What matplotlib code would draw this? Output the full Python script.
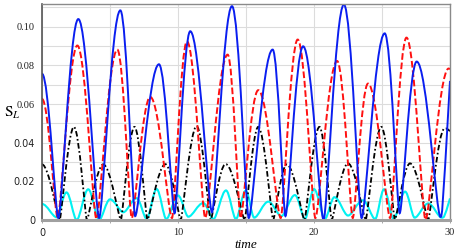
import matplotlib
matplotlib.use("Agg")
import matplotlib.pyplot as plt
from matplotlib.path import Path
from matplotlib.patches import PathPatch

plt.rcParams['mathtext.fontset'] = 'stix'
plt.rcParams['lines.scale_dashes'] = False

# extrema (time, S_L); last point of each is the value at t=30
blue_t = [0, 1.2, 2.67, 4.2, 5.76, 6.85, 8.6, 9.75, 10.9, 12.5, 13.97, 15.2, 16.96, 17.9,
          19.2, 20.7, 22.2, 23.5, 25.2, 26.3, 27.55, 29.3, 30]
blue_y = [0.0757, 0.001, 0.104, 0.001, 0.1085, 0.002, 0.0806, 0.0035, 0.0977, 0.004, 0.1107,
          0.001, 0.0882, 0.002, 0.0899, 0.0, 0.1115, 0.001, 0.0966, 0.0035, 0.082, 0.0016, 0.072]

red_t = [0, 1.15, 2.6, 4.0, 5.54, 6.6, 7.96, 9.56, 10.66, 12.0, 13.65, 14.6, 15.9, 17.55,
         18.8, 20.1, 21.7, 22.85, 23.97, 25.6, 26.8, 28.2, 29.9, 30]
red_y = [0.0627, 0.001, 0.0903, 0.0005, 0.0882, 0.001, 0.0637, 0.001, 0.0925, 0.001, 0.0856,
         0.001, 0.0672, 0.001, 0.0934, 0.001, 0.0823, 0.001, 0.0706, 0.001, 0.0944, 0.0,
         0.0784, 0.078]

black_t = [0, 1.3, 2.35, 3.3, 4.5, 5.8, 6.8, 7.75, 9.07, 10.2, 11.37, 12.4, 13.5, 14.9, 15.9,
           17.0, 18.0, 19.3, 20.4, 21.3, 22.5, 23.8, 24.95, 25.95, 27.06, 28.4, 29.6, 30]
black_y = [0.0288, 0.0, 0.0482, 0.0, 0.0288, 0.0, 0.0482, 0.0, 0.0289, 0.0, 0.0486, 0.0, 0.029,
           0.0, 0.0482, 0.0, 0.0288, 0.0, 0.0482, 0.0, 0.0293, 0.0, 0.0482, 0.0, 0.0293, 0.0,
           0.0474, 0.046]

cyan_t = [0, 1.08, 1.8, 2.55, 3.4, 4.2, 5.0, 5.98, 6.96, 7.7, 8.43, 9.14, 10.0, 10.76, 11.86,
          12.6, 13.53, 14.26, 14.98, 15.6, 16.64, 17.6, 18.6, 19.34, 20.0, 20.8, 21.5, 22.5,
          23.6, 24.5, 25.15, 25.85, 26.7, 27.4, 28.4, 29.4, 30]
cyan_y = [0.0083, 0.0014, 0.0143, 0.0, 0.0159, 0.0, 0.0107, 0.004, 0.0113, 0.0005, 0.016,
          0.0005, 0.0127, 0.0017, 0.0088, 0.0005, 0.0153, 0.0005, 0.0152, 0.0012, 0.0095,
          0.002, 0.0129, 0.0005, 0.016, 0.0005, 0.0118, 0.0023, 0.0102, 0.0005, 0.0159,
          0.0005, 0.0147, 0.0012, 0.0086, 0.0012, 0.0112]


def smooth_path(t, y, kpeak, ktrough):
  # bezier segments through the extrema, flat tangent at each extremum
  verts = [(t[0], y[0])]
  codes = [Path.MOVETO]
  n = len(t)
  for i in range(n - 1):
    dt = t[i + 1] - t[i]
    k0 = kpeak if y[i] >= y[i + 1] else ktrough
    c1 = (t[i] + k0 * dt, y[i])
    if i + 1 == n - 1:
      c2 = c1
    else:
      k1 = kpeak if y[i + 1] >= y[i] else ktrough
      c2 = (t[i + 1] - k1 * dt, y[i + 1])
    verts += [c1, c2, (t[i + 1], y[i + 1])]
    codes += [Path.CURVE4] * 3
  return Path(verts, codes)


fig = plt.figure(figsize=(4.58, 2.52), dpi=100)
ax = fig.add_axes([42 / 458, 1 - 220 / 252, 408 / 458, 216 / 252])

ax.set_xlim(0, 30)
ax.set_ylim(0, 0.1118)

ax.set_xticks([0, 5, 10, 15, 20, 25, 30])
ax.set_xticklabels(['0', '', '10', '', '20', '', '30'])
ax.set_yticks([0, 0.01, 0.02, 0.03, 0.04, 0.05, 0.06, 0.07, 0.08, 0.09, 0.10, 0.11])
ax.set_yticklabels(['0', '', '0.02', '', '0.04', '', '0.06', '', '0.08', '', '0.10', ''])
ax.grid(True, color='#dcdcdc', lw=0.8)
ax.set_axisbelow(True)
ax.tick_params(axis='y', length=0, pad=5, labelsize=7, colors='#222222')
ax.tick_params(axis='x', length=2.5, width=0.6, color='#999999', pad=3, labelsize=7,
               labelcolor='#222222')

serif_y = ['0.06', '0.08', '0.10']
for lab in ax.get_yticklabels():
  if lab.get_text() in serif_y:
    lab.set_family('Liberation Serif')
    lab.set_fontsize(7.5)
for lab in ax.get_xticklabels():
  if lab.get_text() in ['10', '20', '30']:
    lab.set_family('Liberation Serif')
    lab.set_fontsize(7.5)

for side in ['top', 'right']:
  ax.spines[side].set_color('#8a8a8a')
  ax.spines[side].set_linewidth(1.0)
ax.spines['left'].set_color('#555555')
ax.spines['left'].set_linewidth(1.2)
ax.spines['bottom'].set_color('#a0a0a0')
ax.spines['bottom'].set_linewidth(2.2)

ax.add_patch(PathPatch(smooth_path(cyan_t, cyan_y, 0.36, 0.3), fill=False,
                       edgecolor='#00f2f2', lw=1.5))
ax.add_patch(PathPatch(smooth_path(black_t, black_y, 0.4, 0.12), fill=False,
                       edgecolor='black', lw=1.3, linestyle=(0, (4.0, 1.8, 1.2, 1.8))))
ax.add_patch(PathPatch(smooth_path(red_t, red_y, 0.42, 0.18), fill=False,
                       edgecolor='#ff1010', lw=1.4, linestyle=(0, (4.8, 2.0))))
ax.add_patch(PathPatch(smooth_path(blue_t, blue_y, 0.42, 0.18), fill=False,
                       edgecolor='#0a1ef0', lw=1.4))

ax.set_xlabel('time', fontsize=9.5, family='Liberation Serif', style='italic', labelpad=1)
fig.text(12 / 458, 1 - 113 / 252, r'$\mathrm{S}_L$', fontsize=11, ha='center', va='center')

fig.savefig('out.png', dpi=100)
